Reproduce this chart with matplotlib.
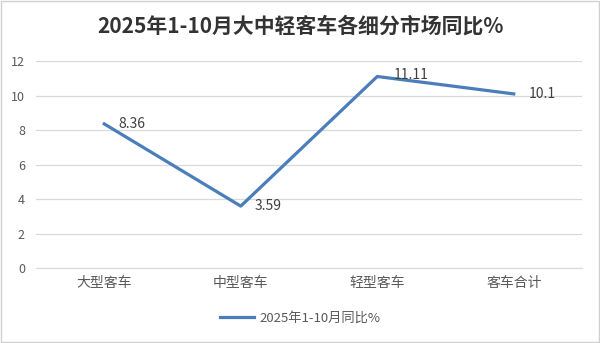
import matplotlib.pyplot as plt
from matplotlib.patches import Rectangle

plt.rcParams['font.family'] = ['Noto Sans CJK SC', 'DejaVu Sans']

categories = ['大型客车', '中型客车', '轻型客车', '客车合计']
values = [8.36, 3.59, 11.11, 10.1]
value_labels = ['8.36', '3.59', '11.11', '10.1']
series_name = '2025年1-10月同比%'
title = '2025年1-10月大中轻客车各细分市场同比%'

line_color = '#4a7ebb'
text_color = '#595959'

fig = plt.figure(figsize=(6.0, 3.43), dpi=100)
ax = fig.add_axes([0.06, 0.2187, 0.91, 0.603])

x = list(range(len(categories)))
ax.plot(x, values, color=line_color, linewidth=2.3, label=series_name)

# data labels, placed to the right like Excel does
offsets = [(10, 0), (10, 0), (12, 1), (11, 0)]
for xi, v, lab, (dx, dy) in zip(x, values, value_labels, offsets):
    ax.annotate(lab, (xi, v), xytext=(dx, dy), textcoords='offset points',
                ha='left', va='center', fontsize=10, color='#404040')

ax.set_xlim(-0.5, len(categories) - 0.5)
ax.set_ylim(0, 12)
ax.set_yticks(range(0, 13, 2))
ax.set_xticks(x)
ax.set_xticklabels(categories, fontsize=10, color=text_color)
ax.tick_params(axis='y', labelsize=9, colors=text_color, length=0, pad=8)
ax.tick_params(axis='x', length=0, pad=6)
ax.grid(axis='y', color='#d9d9d9', linewidth=0.9)
ax.set_axisbelow(True)
for side in ['top', 'right', 'left']:
    ax.spines[side].set_visible(False)
ax.spines['bottom'].set_color('#d9d9d9')

fig.text(0.5, 0.924, title, ha='center', va='center', fontsize=15,
         fontweight='bold', color='#333333')

leg = fig.legend(loc='center', bbox_to_anchor=(0.5, 0.073), frameon=False,
                 fontsize=9.5, handlelength=2.6, handletextpad=0.4)
for t in leg.get_texts():
    t.set_color(text_color)

fig.patches.append(Rectangle((0.002, 0.003), 0.996, 0.994, transform=fig.transFigure,
                             fill=False, edgecolor='#d0d0d0', linewidth=1))

fig.savefig('out.png', dpi=100)
